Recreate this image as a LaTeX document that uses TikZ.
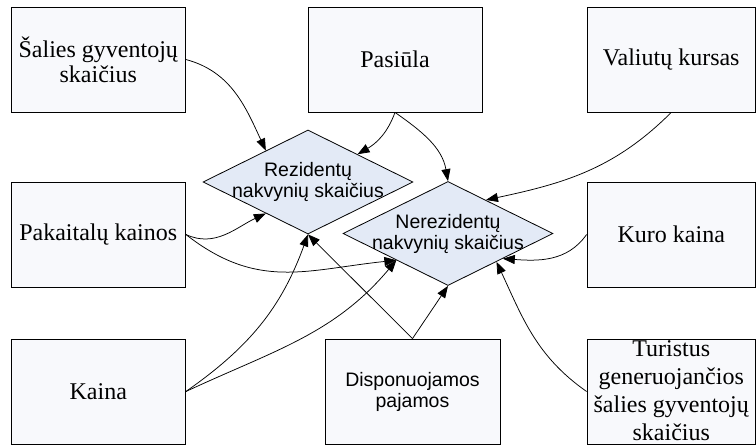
\documentclass[tikz,border=0pt]{standalone}
\usepackage{fontspec}
\setmainfont{Liberation Serif}
\setsansfont{Liberation Sans}
\usetikzlibrary{shapes.geometric,arrows.meta,calc}

\definecolor{boxfill}{HTML}{F8F9FC}
\definecolor{diamfill}{HTML}{E3EAF6}

\tikzset{
  box/.style={draw=black, line width=0.8pt, fill=boxfill,
    minimum width=#1, minimum height=105pt, inner sep=0pt},
  diam/.style={diamond, draw=black, line width=0.8pt, fill=diamfill,
    minimum width=210pt, minimum height=104pt, inner sep=0pt},
  serif/.style={align=center, inner sep=0pt, font=\rmfamily\fontsize{24}{25}\selectfont},
  serifwide/.style={align=center, inner sep=0pt, font=\rmfamily\fontsize{24}{27.8}\selectfont},
  sans/.style={align=center, inner sep=0pt, font=\sffamily\fontsize{19.5}{21}\selectfont},
  link/.style={line width=0.75pt, -{Triangle[length=12pt,width=9pt]}},
}

\begin{document}
\begin{tikzpicture}[x=1pt,y=1pt]
\useasboundingbox (0,0) rectangle (756,-445);

% factor boxes
\node[box=174.5pt, label={[serif]center:{Šalies gyventojų\\skaičius}}] (s) at (98.25,-59.5) {};
\node[box=174pt, label={[serif]center:{Pasiūla}}] (p) at (395,-59.5) {};
\node[box=168.5pt, label={[serif]center:{Valiutų kursas}}] (v) at (671.25,-59.5) {};
\node[box=174.5pt, label={[serif]center:{Pakaitalų kainos}}] (pk) at (98.25,-234.5) {};
\node[box=168.5pt, label={[serif]center:{Kuro kaina}}] (kk) at (671.25,-234.5) {};
\node[box=174.5pt, label={[serif]center:{Kaina}}] (ka) at (98.25,-391.5) {};
\node[box=175pt, label={[sans]center:{Disponuojamos\\pajamos}}] (d) at (412.5,-391.5) {};
\node[box=168.5pt, label={[serifwide, yshift=0.8pt]center:{Turistus\\generuojančios\\šalies gyventojų\\skaičius}}] (t) at (671.25,-391.5) {};

% outcome diamonds
\node[diam, label={[sans]center:{Rezidentų\\nakvynių skaičius}}] (r) at (308,-182) {};
\node[diam, label={[sans]center:{Nerezidentų\\nakvynių skaičius}}] (n) at (448,-233.5) {};

% points on the diamond edges
\coordinate (rUL) at ($(r.west)!0.6!(r.north)$);
\coordinate (rUR) at ($(r.north)!0.47!(r.east)$);
\coordinate (rLL) at ($(r.west)!0.6!(r.south)$);
\coordinate (nUR) at ($(n.north)!0.36!(n.east)$);
\coordinate (nLL) at ($(n.west)!0.51!(n.south)$);
\coordinate (nLRa) at ($(n.south)!0.52!(n.east)$);
\coordinate (nLRb) at ($(n.south)!0.46!(n.east)$);

% influences
\draw[link] (s.east) to[out=-15, in=115] (rUL);
\draw[link] (p.south) to[out=-110, in=30] (rUR);
\draw[link] (p.south) to[out=-35, in=100] (n.north);
\draw[link] (v.south) to[out=-135, in=12] (nUR);
\draw[link] (pk.east) to[out=-25, in=-155] (rLL);
\draw[link] (pk.east) to[out=-38, in=-174, looseness=1.1] (nLL);
\draw[link] (ka.east) to[out=35, in=-110] (r.south);
\draw[link] (ka.east) to[out=25, in=-130] (nLL);
\draw[link] (d.north) -- (r.south);
\draw[link] (d.north) -- (n.south);
\draw[link] (kk.west) to[out=-125, in=-4] (nLRa);
\draw[link] (t.west) to[out=145, in=-65] (nLRb);
\end{tikzpicture}
\end{document}
